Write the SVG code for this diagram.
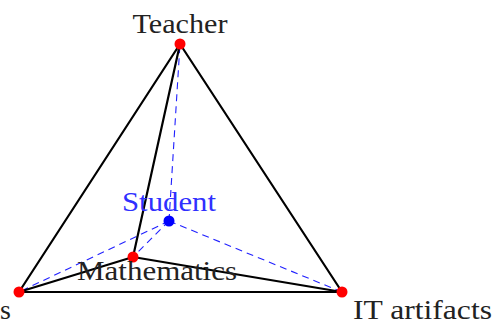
<svg xmlns="http://www.w3.org/2000/svg" width="495" height="324" viewBox="0 0 495 324">
<style>
.solid{stroke:#000;stroke-width:2.2;fill:none;stroke-linecap:round}
.dash{stroke:#2020ff;stroke-width:1.1;fill:none;stroke-dasharray:7 5}
.lbl{font-family:"Liberation Serif","DejaVu Serif",serif;font-size:28px;fill:#222}
.red{fill:#ff0000}
</style>
<rect width="495" height="324" fill="#fff"/>
<g id="connectors">
<line class="dash" x1="169" y1="221" x2="180" y2="44"/>
<line class="dash" x1="169" y1="221" x2="19" y2="292"/>
<line class="dash" x1="169" y1="221" x2="342" y2="292"/>
<line class="dash" x1="169" y1="221" x2="133" y2="257"/>
<line class="solid" x1="180" y1="44" x2="19" y2="292"/>
<line class="solid" x1="180" y1="44" x2="342" y2="292"/>
<line class="solid" x1="180" y1="44" x2="133" y2="257"/>
<line class="solid" x1="19" y1="292" x2="342" y2="292"/>
<line class="solid" x1="19" y1="292" x2="133" y2="257"/>
<line class="solid" x1="133" y1="257" x2="342" y2="292"/>
</g>
<g id="teacher">
<circle class="red" cx="180" cy="44" r="5.5"/>
<text class="lbl" x="180" y="33" text-anchor="middle" textLength="95" lengthAdjust="spacingAndGlyphs">Teacher</text>
</g>
<g id="student">
<circle fill="#0000ff" cx="169" cy="221" r="5.5"/>
<text class="lbl" x="169" y="211" text-anchor="middle" textLength="94" lengthAdjust="spacingAndGlyphs" style="fill:#3030ff">Student</text>
</g>
<g id="mathematics">
<circle class="red" cx="133" cy="257" r="5.5"/>
<text class="lbl" x="157" y="280" text-anchor="middle" textLength="160" lengthAdjust="spacingAndGlyphs">Mathematics</text>
</g>
<g id="students">
<circle class="red" cx="19" cy="292" r="5.5"/>
<text class="lbl" x="0" y="319">s</text>
</g>
<g id="it-artifacts">
<circle class="red" cx="342" cy="292" r="5.5"/>
<text class="lbl" x="353" y="319" textLength="139" lengthAdjust="spacingAndGlyphs">IT artifacts</text>
</g>
</svg>
